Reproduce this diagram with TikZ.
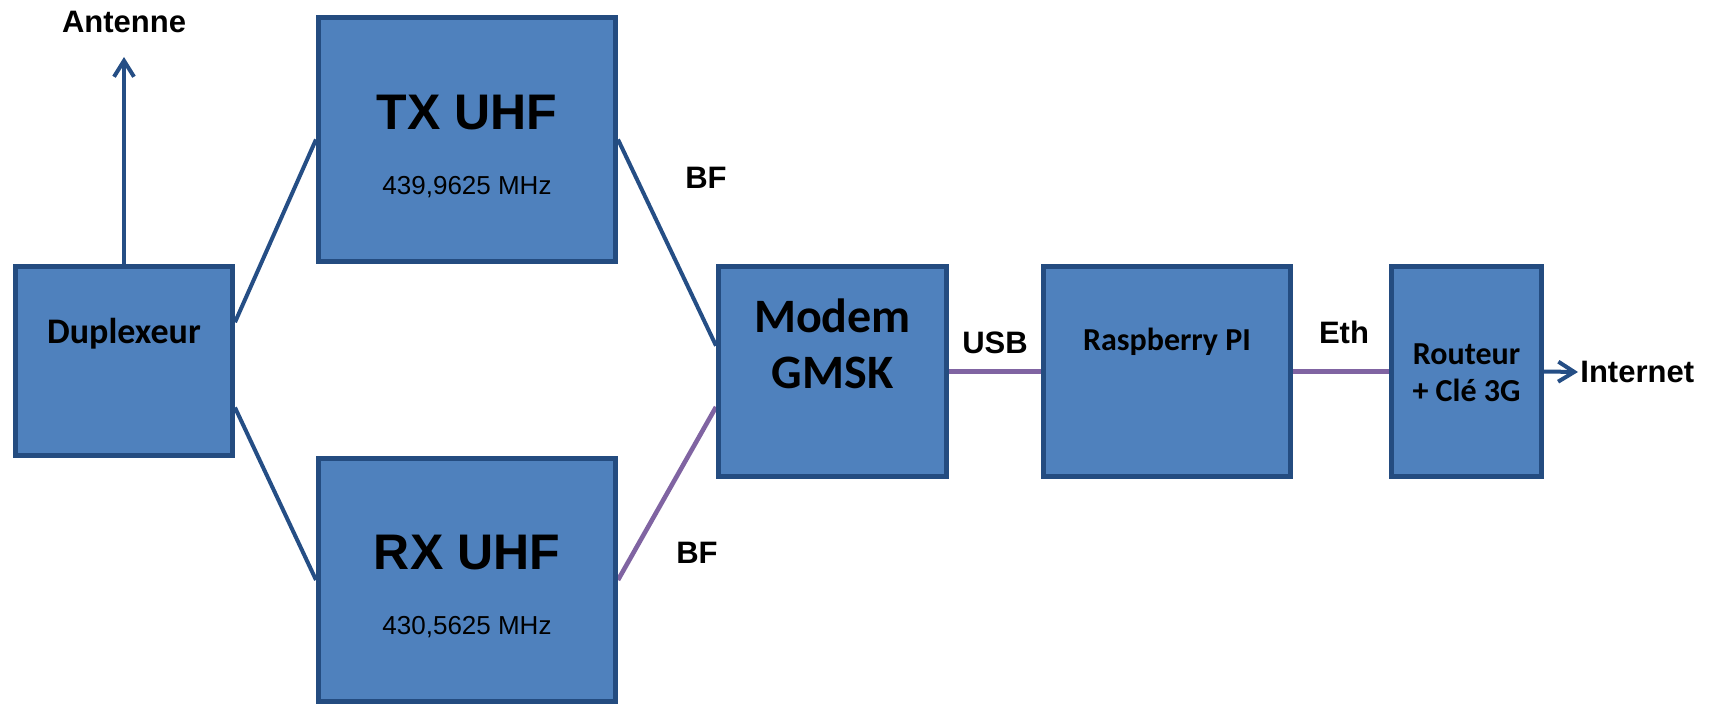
\documentclass[tikz,border=0pt]{standalone}
\usepackage{fontspec}
\setmainfont{Liberation Sans}
\newfontfamily\calibri{Carlito}
\usetikzlibrary{arrows.meta,calc,backgrounds}

\definecolor{boxfill}{HTML}{4F81BD}
\definecolor{boxline}{HTML}{244C80}
\definecolor{rfline}{HTML}{254E85}
\definecolor{dataline}{HTML}{8064A2}

\tikzset{
  block/.style={draw=boxline, line width=2.5pt, fill=boxfill, inner sep=0pt},
  rftitle/.style={font=\bfseries\fontsize{25}{30}\selectfont},
  freqtext/.style={font=\fontsize{13}{15}\selectfont},
  blocktext/.style={font=\calibri\bfseries\fontsize{16}{18.5}\selectfont, align=center},
  linktext/.style={font=\bfseries\fontsize{15.5}{18}\selectfont},
  rflink/.style={draw=rfline, line width=2pt},
  datalink/.style={draw=dataline, line width=2.3pt}
}

\begin{document}
\begin{tikzpicture}[x=0.5pt, y=-0.5pt,
    >={Straight Barb[length=8pt, width=10pt]}]
    \useasboundingbox (0,0) rectangle (1717,706);

    % DUPLEXER AND ANTENNA
    \node[block, minimum width=108.5pt, minimum height=94.5pt] (DUPLEXEUR) at (124,361) {};
    \node[blocktext, font=\calibri\bfseries\fontsize{18}{20}\selectfont] (DUPLEXEUR_TXT) at (124,334) {Duplexeur};
    \node[linktext] (ANTENNE) at (124,22) {Antenne};
    \coordinate (ANTENNA_TIP) at (124,57);

    % RADIO LAYER
    \node[block, minimum width=148.5pt, minimum height=122pt] (TX_UHF) at (467,139.5) {};
    \node[rftitle] (TX_TITLE) at (467,113) {TX UHF};
    \node[freqtext] (TX_FREQ) at (467,187) {439,9625 MHz};

    \node[block, minimum width=148.5pt, minimum height=121.5pt] (RX_UHF) at (467,580) {};
    \node[rftitle] (RX_TITLE) at (467,553) {RX UHF};
    \node[freqtext] (RX_FREQ) at (467,627) {430,5625 MHz};

    % DIGITAL LAYER
    \node[block, minimum width=114pt, minimum height=105pt] (MODEM) at (832.5,371.5) {};
    \node[blocktext, font=\calibri\bfseries\fontsize{24}{28}\selectfont] (MODEM_TXT) at (832.5,344) {Modem\\GMSK};

    \node[block, minimum width=123.5pt, minimum height=105pt] (RASPBERRY) at (1167,371.5) {};
    \node[blocktext] (RASPBERRY_TXT) at (1167,342) {Raspberry PI};

    \node[block, minimum width=75pt, minimum height=105pt] (ROUTEUR) at (1466.5,371.5) {};
    \node[blocktext] (ROUTEUR_TXT) at (1466.5,373) {Routeur\\+ Clé 3G};

    % LINK LABELS
    \node[linktext] (BF_TX) at (706,178) {BF};
    \node[linktext] (BF_RX) at (697,553) {BF};
    \node[linktext] (USB) at (995,343) {USB};
    \node[linktext] (ETH) at (1344,332) {Eth};
    \node[linktext, anchor=west, inner sep=1pt] (INTERNET) at (1578,372) {Internet};

    % LINES
    \coordinate (DUP_TX) at ($(DUPLEXEUR.north east)!0.30!(DUPLEXEUR.south east)$);
    \coordinate (DUP_RX) at ($(DUPLEXEUR.north east)!0.74!(DUPLEXEUR.south east)$);
    \coordinate (MODEM_TX) at ($(MODEM.north west)!0.38!(MODEM.south west)$);
    \coordinate (MODEM_RX) at ($(MODEM.north west)!0.665!(MODEM.south west)$);

    \begin{scope}[on background layer]
      \draw[rflink, ->] (DUPLEXEUR.north) -- (ANTENNA_TIP);
      \draw[rflink] (DUP_TX) -- (TX_UHF.west);
      \draw[rflink] (DUP_RX) -- (RX_UHF.west);
      \draw[rflink] (TX_UHF.east) -- (MODEM_TX);
      \draw[datalink] (RX_UHF.east) -- (MODEM_RX);
      \draw[datalink] (MODEM.east) -- (RASPBERRY.west);
      \draw[datalink] (RASPBERRY.east) -- (ROUTEUR.west);
      \draw[rflink, ->] (ROUTEUR.east) -- (INTERNET.west);
    \end{scope}
\end{tikzpicture}
\end{document}
